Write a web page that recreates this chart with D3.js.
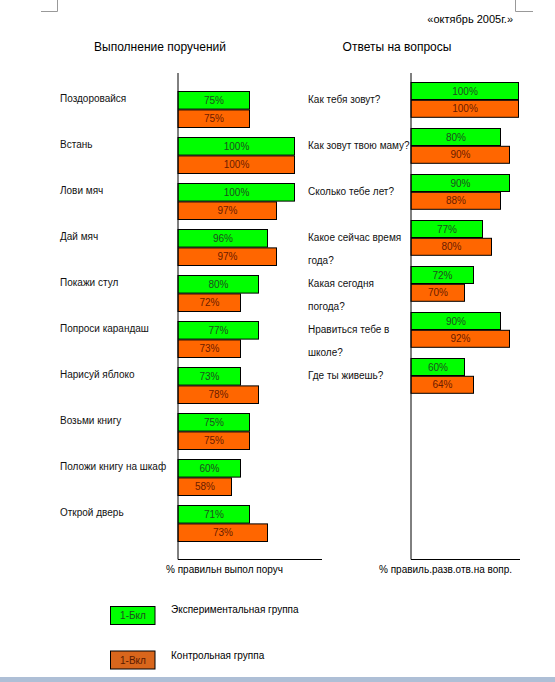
<!DOCTYPE html>
<html>
<head>
<meta charset="utf-8">
<script src="https://cdn.jsdelivr.net/npm/d3@7/dist/d3.min.js"></script>
<style>
  body { margin: 0; background: #fff; }
  svg { display: block; font-family: "Liberation Sans", Arial, sans-serif; }
</style>
</head>
<body>
<div id="chart"></div>
<script>
// ---- data ----
var leftCategories = ["Поздоровайся", "Встань", "Лови мяч", "Дай мяч", "Покажи стул",
  "Попроси карандаш", "Нарисуй яблоко", "Возьми книгу", "Положи книгу на шкаф", "Открой дверь"]
var leftExp = [75, 100, 100, 96, 80, 77, 73, 75, 60, 71]   // % shown, experimental group
var leftCtl = [75, 100, 97, 97, 72, 73, 78, 75, 58, 73]    // % shown, control group
// the bars were drawn by hand on a grid, so their lengths are read in grid cells
var leftExpCells = [8, 13, 13, 10, 9, 9, 7, 8, 7, 8]
var leftCtlCells = [8, 13, 11, 11, 7, 7, 9, 8, 6, 10]

var rightCategories = ["Как тебя зовут?", "Как зовут твою маму?", "Сколько тебе лет?",
  "Какое сейчас время\nгода?", "Какая сегодня\nпогода?", "Нравиться тебе в\nшколе?", "Где ты живешь?"]
var rightExp = [100, 80, 90, 77, 72, 90, 60]
var rightCtl = [100, 90, 88, 80, 70, 92, 64]
var rightExpCells = [12, 10, 11, 8, 7, 10, 6]
var rightCtlCells = [12, 11, 10, 9, 6, 11, 7]

var legendNames = ["Экспериментальная группа", "Контрольная группа"]
var legendTags = ["1-Бкл", "1-Вкл"]

var width = 555
var height = 682
var green = "#00ff00"
var orange = "#ff6600"

var svg = d3.select("#chart").append("svg")
  .attr("width", width).attr("height", height)

// page corner marks and bottom strip
svg.append("path").attr("d", "M41,11.5H57.5V0").attr("fill", "none").attr("stroke", "#999")
svg.append("path").attr("d", "M515.5,0V11.5H533").attr("fill", "none").attr("stroke", "#999")
svg.append("rect").attr("x", 0).attr("y", 677).attr("width", width).attr("height", 5).attr("fill", "#aebfd6")

svg.append("text").attr("x", 513).attr("y", 23).attr("text-anchor", "end")
  .attr("font-size", "11px").text("«октябрь 2005г.»")

// one cell = 9px for both panels
var xCells = d3.scaleLinear().domain([0, 13]).range([0, 117])

function drawPanel(opt) {
  var g = svg.append("g")
  var y = d3.scaleBand().domain(opt.categories)
    .range([opt.top, opt.top + 46 * opt.categories.length])

  g.append("text").attr("x", opt.titleX).attr("y", 51).attr("text-anchor", "middle")
    .attr("font-size", "12px").text(opt.title)

  var rows = opt.categories.map(function(c, i) {
    return { cat: c, exp: opt.exp[i], ctl: opt.ctl[i], expCells: opt.expCells[i], ctlCells: opt.ctlCells[i] }
  })

  var series = [
    { key: "exp", cells: "expCells", fill: green, ink: "#1f4d1f", dy: 0 },
    { key: "ctl", cells: "ctlCells", fill: orange, ink: "#6a1c00", dy: opt.barH + 0.8 }
  ]

  series.forEach(function(s) {
    g.selectAll(".bar-" + s.key)
      .data(rows)
      .enter().append("rect")
      .attr("x", opt.axisX)
      .attr("y", function(d) { return y(d.cat) + s.dy })
      .attr("width", function(d) { return xCells(d[s.cells]) - 0.5 })
      .attr("height", opt.barH)
      .attr("fill", s.fill)
      .attr("stroke", "#000")
      .attr("stroke-width", 1)

    g.selectAll(".val-" + s.key)
      .data(rows)
      .enter().append("text")
      .attr("x", function(d) { return opt.axisX + xCells(d[s.cells]) / 2 })
      .attr("y", function(d) { return y(d.cat) + s.dy + opt.barH / 2 })
      .attr("dy", "0.35em")
      .attr("text-anchor", "middle")
      .attr("font-size", "10px")
      .attr("fill", s.ink)
      .text(function(d) { return d[s.key] + "%" })
  })

  // category names, one line every 23px
  var labels = g.selectAll(".cat")
    .data(rows)
    .enter().append("text")
    .attr("x", opt.labelX)
    .attr("font-size", "10px")
    .attr("fill", "#111")
  labels.each(function(d) {
    var t = d3.select(this)
    d.cat.split("\n").forEach(function(line, k) {
      t.append("tspan").attr("x", opt.labelX)
        .attr("y", y(d.cat) + opt.labelOffset + 23 * k)
        .attr("dy", "0.35em")
        .text(line)
    })
  })

  // axis lines
  g.append("line").attr("x1", opt.axisX).attr("x2", opt.axisX).attr("y1", 73).attr("y2", 559.5)
    .attr("stroke", "#000")
  g.append("line").attr("x1", opt.axisX).attr("x2", opt.baseEnd).attr("y1", 559.5).attr("y2", 559.5)
    .attr("stroke", "#000")

  g.append("text").attr("x", opt.axisTitleX).attr("y", 573).attr("font-size", "10px")
    .text(opt.axisTitle)
}

drawPanel({
  categories: leftCategories, exp: leftExp, ctl: leftCtl,
  expCells: leftExpCells, ctlCells: leftCtlCells,
  title: "Выполнение поручений", titleX: 160,
  axisX: 178, top: 91.5, barH: 17.6, labelX: 60, labelOffset: 6.5, baseEnd: 322,
  axisTitle: "% правильн выпол поруч", axisTitleX: 166
})

drawPanel({
  categories: rightCategories, exp: rightExp, ctl: rightCtl,
  expCells: rightExpCells, ctlCells: rightCtlCells,
  title: "Ответы на вопросы", titleX: 397,
  axisX: 411, top: 82.5, barH: 17, labelX: 308, labelOffset: 17, baseEnd: 520,
  axisTitle: "% правиль.разв.отв.на вопр.", axisTitleX: 379
})

// legend
var legend = svg.append("g")
var legendFills = [green, "#d9661c"]
var legendInk = ["#1f4d1f", "#5a1a00"]
legend.selectAll("rect")
  .data(legendNames)
  .enter().append("rect")
  .attr("x", 110.5)
  .attr("y", function(d, i) { return 606.5 + i * 44.5 })
  .attr("width", 44.5).attr("height", 18)
  .attr("fill", function(d, i) { return legendFills[i] })
  .attr("stroke", "#000")
legend.selectAll(".tag")
  .data(legendTags)
  .enter().append("text")
  .attr("x", 133)
  .attr("y", function(d, i) { return 615.5 + i * 44.5 })
  .attr("dy", "0.35em").attr("text-anchor", "middle")
  .attr("font-size", "10px")
  .attr("fill", function(d, i) { return legendInk[i] })
  .text(function(d) { return d })
legend.selectAll(".name")
  .data(legendNames)
  .enter().append("text")
  .attr("x", 171)
  .attr("y", function(d, i) { return 609.5 + i * 45.5 })
  .attr("dy", "0.35em")
  .attr("font-size", "10px")
  .text(function(d) { return d })
</script>
</body>
</html>
